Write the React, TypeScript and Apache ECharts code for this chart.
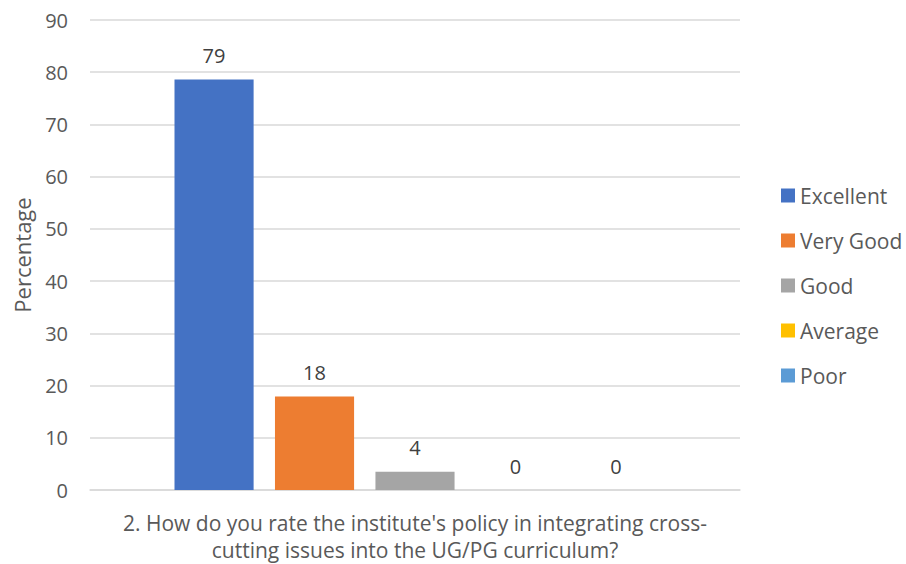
import React, { useEffect, useRef } from "react";
import * as echarts from "echarts";

const categories: string[] = [
  "2. How do you rate the institute's policy in integrating cross-\ncutting issues into the UG/PG curriculum?",
];
const seriesNames: string[] = ["Excellent", "Very Good", "Good", "Average", "Poor"];
const seriesValues: number[] = [78.6, 17.9, 3.5, 0, 0];
const seriesColors: string[] = ["#4472C4", "#ED7D31", "#A5A5A5", "#FFC000", "#5B9BD5"];
const yTicks = { min: 0, max: 90, interval: 10 };
const yAxisTitle = "Percentage";

const FONT = "'Open Sans', 'Noto Sans', sans-serif";

export default function App() {
  const ref = useRef<HTMLDivElement>(null);
  useEffect(() => {
    if (!ref.current) return;
    const chart = echarts.init(ref.current, undefined, { renderer: "svg" });
    chart.setOption({
      animation: false,
      backgroundColor: "#ffffff",
      textStyle: { fontFamily: FONT },
      grid: { left: 90, right: 166, top: 20, bottom: 74, containLabel: false },
      legend: {
        orient: "vertical",
        left: 781,
        top: 185,
        padding: 0,
        itemWidth: 14,
        itemHeight: 14,
        itemGap: 24,
        icon: "rect",
        textStyle: { fontFamily: FONT, fontSize: 21, color: "#595959", padding: [0, 0, 0, 0] },
        data: seriesNames,
      },
      xAxis: {
        type: "category",
        data: categories,
        axisLine: { show: true, lineStyle: { color: "#D9D9D9", width: 1.5 } },
        axisTick: { show: false },
        axisLabel: {
          fontFamily: FONT,
          fontSize: 21,
          color: "#595959",
          margin: 19,
          lineHeight: 27,
        },
      },
      yAxis: {
        type: "value",
        min: yTicks.min,
        max: yTicks.max,
        interval: yTicks.interval,
        name: yAxisTitle,
        nameLocation: "middle",
        nameGap: 57,
        nameTextStyle: { fontFamily: FONT, fontSize: 22, color: "#595959" },
        axisLine: { show: false },
        axisTick: { show: false },
        axisLabel: { fontFamily: FONT, fontSize: 20, color: "#595959", margin: 22 },
        splitLine: { lineStyle: { color: "#D9D9D9", width: 1.5 } },
      },
      series: seriesNames.map((name, i) => ({
        name,
        type: "bar",
        barGap: "27%",
        barCategoryGap: "26%",
        itemStyle: { color: seriesColors[i] },
        label: {
          show: true,
          position: "top",
          distance: 14,
          fontFamily: FONT,
          fontSize: 20,
          color: "#404040",
          formatter: (p: any) => String(Math.round(p.value)),
        },
        data: [seriesValues[i]],
      })),
    });
    return () => chart.dispose();
  }, []);
  return (
    <div
      ref={ref}
      style={{ position: "fixed", left: 0, top: 0, width: 906, height: 564, background: "#fff" }}
    />
  );
}
